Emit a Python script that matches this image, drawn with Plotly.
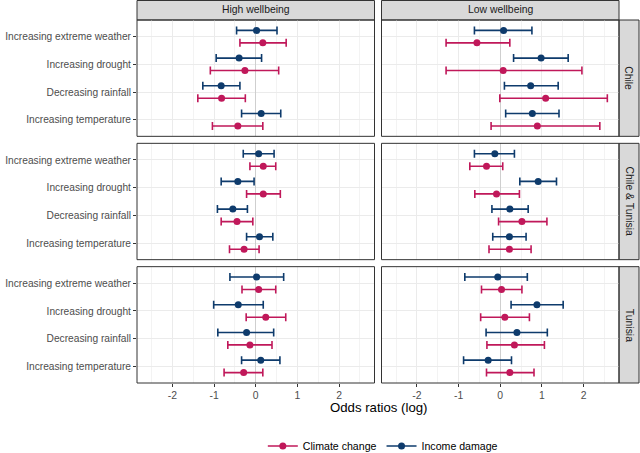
import plotly.graph_objects as go
from plotly.subplots import make_subplots

# ---------------- data ----------------
categories = ["Increasing extreme weather", "Increasing drought",
              "Decreasing rainfall", "Increasing temperature"]
wellbeing = ["High wellbeing", "Low wellbeing"]
countries = ["Chile", "Chile & Tunisia", "Tunisia"]
series_names = ["Climate change", "Income damage"]

# (estimate, lower, upper) per category, per panel
cc_chile_high = [(0.17, -0.38, 0.73), (-0.26, -1.09, 0.55), (-0.82, -1.39, -0.25), (-0.43, -1.04, 0.17)]
inc_chile_high = [(0.02, -0.46, 0.51), (-0.40, -0.95, 0.14), (-0.83, -1.27, -0.38), (0.13, -0.34, 0.60)]
cc_chile_low = [(-0.56, -1.30, 0.23), (0.07, -1.30, 1.96), (1.09, -0.01, 2.57), (0.89, -0.22, 2.39)]
inc_chile_low = [(0.08, -0.62, 0.76), (0.98, 0.32, 1.63), (0.73, 0.10, 1.39), (0.77, 0.13, 1.41)]

cc_both_high = [(0.18, -0.14, 0.48), (0.18, -0.22, 0.59), (-0.45, -0.83, -0.07), (-0.28, -0.63, 0.08)]
inc_both_high = [(0.07, -0.30, 0.44), (-0.43, -0.83, -0.04), (-0.55, -0.92, -0.20), (0.09, -0.22, 0.41)]
cc_both_low = [(-0.33, -0.73, 0.06), (-0.09, -0.61, 0.46), (0.52, -0.04, 1.12), (0.22, -0.27, 0.74)]
inc_both_low = [(-0.13, -0.62, 0.34), (0.91, 0.47, 1.35), (0.23, -0.20, 0.67), (0.22, -0.18, 0.62)]

cc_tun_high = [(0.07, -0.33, 0.48), (0.24, -0.23, 0.72), (-0.14, -0.67, 0.39), (-0.29, -0.76, 0.17)]
inc_tun_high = [(0.02, -0.62, 0.67), (-0.42, -1.01, 0.18), (-0.22, -0.91, 0.43), (0.12, -0.34, 0.58)]
cc_tun_low = [(0.03, -0.45, 0.52), (0.11, -0.47, 0.70), (0.34, -0.32, 1.06), (0.23, -0.33, 0.81)]
inc_tun_low = [(-0.06, -0.85, 0.65), (0.88, 0.26, 1.51), (0.40, -0.34, 1.13), (-0.29, -0.88, 0.27)]

x_tick_vals = [-2, -1, 0, 1, 2]

panels = {
    ("Chile", "High wellbeing"): (cc_chile_high, inc_chile_high),
    ("Chile", "Low wellbeing"): (cc_chile_low, inc_chile_low),
    ("Chile & Tunisia", "High wellbeing"): (cc_both_high, inc_both_high),
    ("Chile & Tunisia", "Low wellbeing"): (cc_both_low, inc_both_low),
    ("Tunisia", "High wellbeing"): (cc_tun_high, inc_tun_high),
    ("Tunisia", "Low wellbeing"): (cc_tun_low, inc_tun_low),
}

# ---------------- style ----------------
W, H = 640, 453
ML, MR, MT, MB = 137, 21, 20, 70
PW, PH = W - ML - MR, H - MT - MB
COLORS = {"Climate change": "#C0185A", "Income damage": "#0E3B6C"}
DODGE = {"Climate change": 0.225, "Income damage": -0.225}
FONT = "Liberation Sans, Arial, sans-serif"
BORDER = "#333333"
STRIP_BG = "#D9D9D9"

fig = make_subplots(rows=3, cols=2, horizontal_spacing=7 / PW, vertical_spacing=7 / PH)

for r, country in enumerate(countries, start=1):
    for c, wb in enumerate(wellbeing, start=1):
        cc, inc = panels[(country, wb)]
        for name, vals in zip(series_names, (cc, inc)):
            est = [v[0] for v in vals]
            lo = [v[1] for v in vals]
            hi = [v[2] for v in vals]
            ypos = [i + 1 + DODGE[name] for i in range(len(categories))]
            fig.add_trace(go.Scatter(
                x=est, y=ypos, mode="markers", showlegend=False,
                marker=dict(color=COLORS[name], size=7),
                error_x=dict(type="data", symmetric=False,
                             array=[h - e for h, e in zip(hi, est)],
                             arrayminus=[e - l for e, l in zip(est, lo)],
                             color=COLORS[name], thickness=1.6, width=4),
                hoverinfo="skip"), row=r, col=c)

for name in series_names:
    fig.add_trace(go.Scatter(x=[None], y=[None], mode="lines+markers", name=name,
                             marker=dict(color=COLORS[name], size=7),
                             line=dict(color=COLORS[name], width=1.6)))

for r in range(1, 4):
    for c in range(1, 3):
        fig.update_xaxes(row=r, col=c, range=[-2.85, 2.85], tickvals=x_tick_vals,
                         ticktext=[str(v) for v in x_tick_vals],
                         showticklabels=(r == 3), ticks="outside" if r == 3 else "",
                         ticklen=3, tickcolor=BORDER,
                         showgrid=True, gridcolor="#EBEBEB", gridwidth=1,
                         minor=dict(tickvals=[-2.5, -1.5, -0.5, 0.5, 1.5, 2.5],
                                    showgrid=True, gridcolor="#F3F3F3", gridwidth=1),
                         zeroline=True, zerolinecolor="#CFCFCF", zerolinewidth=1,
                         showline=False,
                         tickfont=dict(family=FONT, size=10.4, color="#4D4D4D"))
        fig.update_yaxes(row=r, col=c, range=[4.6, 0.4], tickvals=[1, 2, 3, 4],
                         ticktext=categories, showticklabels=(c == 1),
                         ticks="outside" if c == 1 else "", ticklen=3, tickcolor=BORDER,
                         showgrid=True, gridcolor="#EBEBEB", gridwidth=1,
                         zeroline=False, showline=False,
                         tickfont=dict(family=FONT, size=10.2, color="#4D4D4D"))

shapes = []
annotations = []
n = 0
for r in range(1, 4):
    for c in range(1, 3):
        n += 1
        xs = "x" if n == 1 else f"x{n}"
        ys = "y" if n == 1 else f"y{n}"
        shapes.append(dict(type="rect", xref=f"{xs} domain", yref=f"{ys} domain",
                           x0=0, x1=1, y0=0, y1=1, line=dict(color=BORDER, width=1),
                           fillcolor="rgba(0,0,0,0)", layer="above"))
        if r == 1:
            shapes.append(dict(type="rect", xref=f"{xs} domain", yref="paper",
                               x0=0, x1=1, y0=1.0, y1=1 + 19.5 / PH,
                               line=dict(color=BORDER, width=1), fillcolor=STRIP_BG, layer="below"))
            annotations.append(dict(text=wellbeing[c - 1], xref=f"{xs} domain", yref="paper",
                                    x=0.5, y=1 + 10 / PH, showarrow=False,
                                    xanchor="center", yanchor="middle",
                                    font=dict(family=FONT, size=10.4, color="#1A1A1A")))
        if c == 2:
            shapes.append(dict(type="rect", xref="paper", yref=f"{ys} domain",
                               x0=1.0, x1=1 + 20 / PW, y0=0, y1=1,
                               line=dict(color=BORDER, width=1), fillcolor=STRIP_BG, layer="below"))
            annotations.append(dict(text=countries[r - 1], xref="paper", yref=f"{ys} domain",
                                    x=1 + 10 / PW, y=0.5, showarrow=False, textangle=90,
                                    xanchor="center", yanchor="middle",
                                    font=dict(family=FONT, size=10.4, color="#1A1A1A")))

annotations.append(dict(text="Odds ratios (log)", xref="paper", yref="paper",
                        x=0.5, y=-25 / PH, showarrow=False, xanchor="center", yanchor="middle",
                        font=dict(family=FONT, size=13.2, color="#000000")))

fig.update_layout(
    width=W, height=H,
    margin=dict(l=ML, r=MR, t=MT, b=MB, autoexpand=False),
    paper_bgcolor="white", plot_bgcolor="white",
    shapes=shapes, annotations=annotations,
    showlegend=True,
    legend=dict(orientation="h", x=0.51, xanchor="center", y=-63 / PH, yanchor="middle",
                font=dict(family=FONT, size=10.6, color="#000000"),
                itemwidth=30, bgcolor="rgba(0,0,0,0)"),
    font=dict(family=FONT),
)

fig.write_html("out.html", config={"displayModeBar": False},
               post_script="document.body.style.margin='0';document.body.style.padding='0';")
